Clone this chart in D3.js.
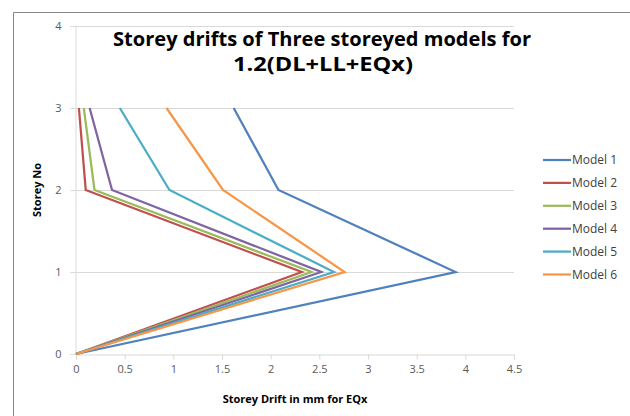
<!DOCTYPE html>
<html>
<head>
<meta charset="utf-8">
<script src="https://cdn.jsdelivr.net/npm/d3@7"></script>
<style>
  body { margin: 0; background: #fff; }
  svg { display: block; font-family: "Open Sans", "Liberation Sans", sans-serif; }
</style>
</head>
<body>
<svg id="chart" width="630" height="416"></svg>
<script>
// storey numbers (y) shared by every series
const storeys = [0, 1, 2, 3];
const seriesNames = ["Model 1", "Model 2", "Model 3", "Model 4", "Model 5", "Model 6"];
// drift in mm per storey
const model1 = [0, 3.90, 2.08, 1.62];
const model2 = [0, 2.32, 0.10, 0.03];
const model3 = [0, 2.42, 0.19, 0.08];
const model4 = [0, 2.52, 0.37, 0.14];
const model5 = [0, 2.65, 0.96, 0.45];
const model6 = [0, 2.76, 1.51, 0.93];
const xTicks = [0, 0.5, 1, 1.5, 2, 2.5, 3, 3.5, 4, 4.5];
const yTicks = [0, 1, 2, 3, 4];

const colors = ["#4f81bd", "#c0504d", "#9bbb59", "#8064a2", "#4bacc6", "#f79646"];
const allSeries = [model1, model2, model3, model4, model5, model6];

const svg = d3.select("#chart");

// outer chart frame (only left and top edges visible in the crop)
svg.append("path")
    .attr("d", "M13.5,416V12.5H630")
    .attr("fill", "none")
    .attr("stroke", "#868686")
    .attr("stroke-width", 1);

const x = d3.scaleLinear().domain([0, 4.5]).range([76, 514]);
const y = d3.scaleLinear().domain([0, 4]).range([354, 26]);

// horizontal gridlines
svg.append("g")
    .selectAll("line")
    .data(yTicks.filter(d => d > 0))
    .join("line")
    .attr("x1", x(0))
    .attr("x2", x(4.5))
    .attr("y1", d => y(d) + 0.5)
    .attr("y2", d => y(d) + 0.5)
    .attr("stroke", "#d9d9d9")
    .attr("stroke-width", 1);

// axes
const xAxis = svg.append("g")
    .attr("transform", `translate(0,${y(0) + 0.5})`)
    .call(d3.axisBottom(x).tickValues(xTicks).tickSize(5).tickPadding(6).tickFormat(d3.format("")));
const yAxis = svg.append("g")
    .attr("transform", `translate(${x(0) - 0.5},0)`)
    .call(d3.axisLeft(y).tickValues(yTicks).tickSize(5).tickPadding(9).tickFormat(d3.format("d")));

[xAxis, yAxis].forEach(a => {
    a.select(".domain").attr("stroke", "#d9d9d9");
    a.selectAll(".tick line").attr("stroke", "#d9d9d9");
    a.selectAll(".tick text")
        .attr("fill", "#595959")
        .attr("font-size", 11)
        .attr("font-family", "\"Open Sans\", sans-serif");
});

// series lines
const line = d3.line()
    .x(d => x(d[0]))
    .y(d => y(d[1]));

svg.append("g")
    .selectAll("path")
    .data(allSeries)
    .join("path")
    .attr("d", vals => line(vals.map((v, i) => [v, storeys[i]])))
    .attr("fill", "none")
    .attr("stroke", (_d, i) => colors[i])
    .attr("stroke-width", 2.25)
    .attr("stroke-linejoin", "miter");

// title
const title = svg.append("text")
    .attr("text-anchor", "middle")
    .attr("font-weight", "bold")
    .attr("font-size", 20)
    .attr("fill", "#000");
title.append("tspan")
    .attr("x", 322)
    .attr("y", 46)
    .attr("textLength", 418)
    .attr("lengthAdjust", "spacingAndGlyphs")
    .text("Storey drifts of Three storeyed models for");
title.append("tspan")
    .attr("x", 323)
    .attr("y", 71)
    .attr("textLength", 180)
    .attr("lengthAdjust", "spacingAndGlyphs")
    .text("1.2(DL+LL+EQx)");

// axis titles
svg.append("text")
    .attr("x", 295)
    .attr("y", 403)
    .attr("text-anchor", "middle")
    .attr("font-weight", "bold")
    .attr("font-size", 11)
    .attr("fill", "#000")
    .text("Storey Drift in mm for EQx");

svg.append("text")
    .attr("transform", "translate(41,190) rotate(-90)")
    .attr("text-anchor", "middle")
    .attr("font-weight", "bold")
    .attr("font-size", 11)
    .attr("fill", "#000")
    .text("Storey  No");

// legend
const legend = svg.append("g")
    .selectAll("g")
    .data(seriesNames)
    .join("g")
    .attr("transform", (_d, i) => `translate(543,${160 + i * 22.9})`);
legend.append("line")
    .attr("x1", 0)
    .attr("x2", 28)
    .attr("stroke", (_d, i) => colors[i])
    .attr("stroke-width", 2.25);
legend.append("text")
    .attr("x", 29)
    .attr("dy", "0.35em")
    .attr("font-size", 12)
    .attr("fill", "#404040")
    .text(d => d);
</script>
</body>
</html>
